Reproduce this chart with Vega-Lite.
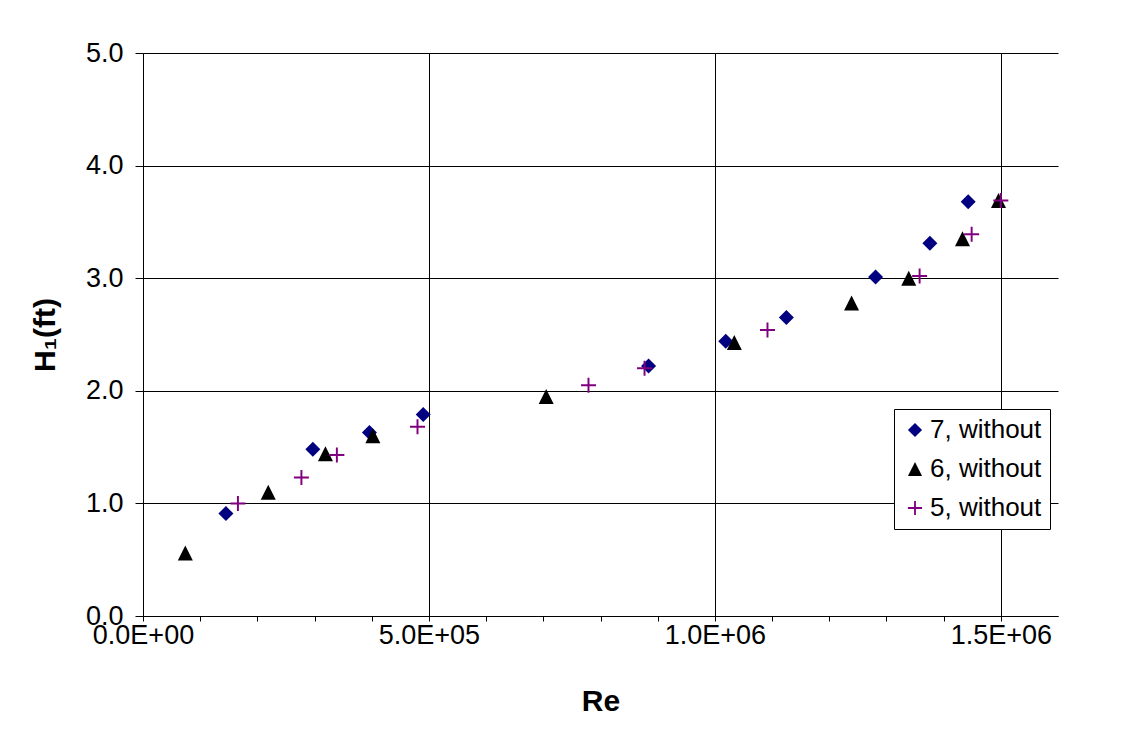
{
  "$schema": "https://vega.github.io/schema/vega-lite/v6.json",
  "autosize": "none",
  "width": 915,
  "height": 563,
  "padding": {"left": 143, "top": 53, "right": 72, "bottom": 136},
  "background": "white",
  "config": {
    "font": "Liberation Sans",
    "view": {"stroke": null},
    "axis": {
      "labelFont": "Liberation Sans",
      "labelFontSize": 27,
      "labelColor": "black",
      "titleFont": "Liberation Sans",
      "titleFontSize": 30,
      "titleFontWeight": "bold",
      "titleColor": "black",
      "domainColor": "black",
      "domainWidth": 1,
      "tickColor": "black",
      "tickWidth": 1,
      "gridColor": "black",
      "gridWidth": 1,
      "labelFlush": false,
      "labelOverlap": false
    },
    "legend": {
      "labelFont": "Liberation Sans",
      "labelFontSize": 26,
      "labelColor": "black"
    }
  },
  "data": {
    "values": [
      {"series": "7, without", "Re": 145000, "H1": 0.91},
      {"series": "7, without", "Re": 297000, "H1": 1.48},
      {"series": "7, without", "Re": 396000, "H1": 1.63},
      {"series": "7, without", "Re": 490000, "H1": 1.79},
      {"series": "7, without", "Re": 884000, "H1": 2.22},
      {"series": "7, without", "Re": 1019000, "H1": 2.44},
      {"series": "7, without", "Re": 1125000, "H1": 2.65},
      {"series": "7, without", "Re": 1281000, "H1": 3.01},
      {"series": "7, without", "Re": 1376000, "H1": 3.31},
      {"series": "7, without", "Re": 1443000, "H1": 3.68},
      {"series": "6, without", "Re": 74000, "H1": 0.56},
      {"series": "6, without", "Re": 219000, "H1": 1.10},
      {"series": "6, without", "Re": 319000, "H1": 1.44},
      {"series": "6, without", "Re": 402000, "H1": 1.60},
      {"series": "6, without", "Re": 705000, "H1": 1.95},
      {"series": "6, without", "Re": 1034000, "H1": 2.43},
      {"series": "6, without", "Re": 1239000, "H1": 2.78},
      {"series": "6, without", "Re": 1339000, "H1": 3.00},
      {"series": "6, without", "Re": 1433000, "H1": 3.35},
      {"series": "6, without", "Re": 1496000, "H1": 3.69},
      {"series": "5, without", "Re": 166000, "H1": 1.00},
      {"series": "5, without", "Re": 277000, "H1": 1.23},
      {"series": "5, without", "Re": 339000, "H1": 1.43},
      {"series": "5, without", "Re": 480000, "H1": 1.68},
      {"series": "5, without", "Re": 779000, "H1": 2.05},
      {"series": "5, without", "Re": 877000, "H1": 2.20},
      {"series": "5, without", "Re": 1092000, "H1": 2.54},
      {"series": "5, without", "Re": 1358000, "H1": 3.02},
      {"series": "5, without", "Re": 1449000, "H1": 3.39},
      {"series": "5, without", "Re": 1500000, "H1": 3.69}
    ]
  },
  "mark": {"type": "point", "filled": true, "opacity": 1, "size": 225, "strokeWidth": 0},
  "encoding": {
    "x": {
      "field": "Re",
      "type": "quantitative",
      "scale": {"domain": [0, 1600000], "nice": false, "zero": false},
      "axis": {
        "title": "Re",
        "values": [0, 100000, 200000, 300000, 400000, 500000, 600000, 700000, 800000, 900000, 1000000, 1100000, 1200000, 1300000, 1400000, 1500000, 1600000],
        "labelExpr": "datum.value % 500000 === 0 ? replace(upper(format(datum.value, '.1e')), 'E+', 'E+0') : ''",
        "grid": true,
        "gridOpacity": {"condition": {"test": "datum.value % 500000 === 0 && datum.value < 1600000", "value": 1}, "value": 0},
        "tickSize": 5,
        "tickOpacity": {"condition": {"test": "datum.value < 1600000", "value": 1}, "value": 0},
        "labelPadding": 1,
        "titlePadding": 38
      }
    },
    "y": {
      "field": "H1",
      "type": "quantitative",
      "scale": {"domain": [0, 5], "nice": false},
      "axis": {
        "title": "H₁(ft)",
        "values": [0, 1, 2, 3, 4, 5],
        "format": ".1f",
        "grid": true,
        "tickSize": 8,
        "labelPadding": 12,
        "titlePadding": 25
      }
    },
    "color": {
      "field": "series",
      "type": "nominal",
      "scale": {
        "domain": ["7, without", "6, without", "5, without"],
        "range": ["#000080", "#000000", "#800080"]
      },
      "legend": {
        "title": null,
        "orient": "none",
        "legendX": 751,
        "legendY": 356,
        "strokeColor": "black",
        "fillColor": "white",
        "padding": 8,
        "rowPadding": 13,
        "symbolSize": 200,
        "symbolStrokeWidth": 0,
        "labelOffset": 2
      }
    },
    "shape": {
      "field": "series",
      "type": "nominal",
      "scale": {
        "domain": ["7, without", "6, without", "5, without"],
        "range": [
          "diamond",
          "M0,-1L1,1L-1,1Z",
          "M-1,-0.13L-0.13,-0.13L-0.13,-1L0.13,-1L0.13,-0.13L1,-0.13L1,0.13L0.13,0.13L0.13,1L-0.13,1L-0.13,0.13L-1,0.13Z"
        ]
      },
      "legend": {
        "title": null,
        "orient": "none",
        "legendX": 751,
        "legendY": 356,
        "strokeColor": "black",
        "fillColor": "white",
        "padding": 8,
        "rowPadding": 13,
        "symbolSize": 200,
        "symbolStrokeWidth": 0,
        "labelOffset": 2
      }
    }
  }
}
